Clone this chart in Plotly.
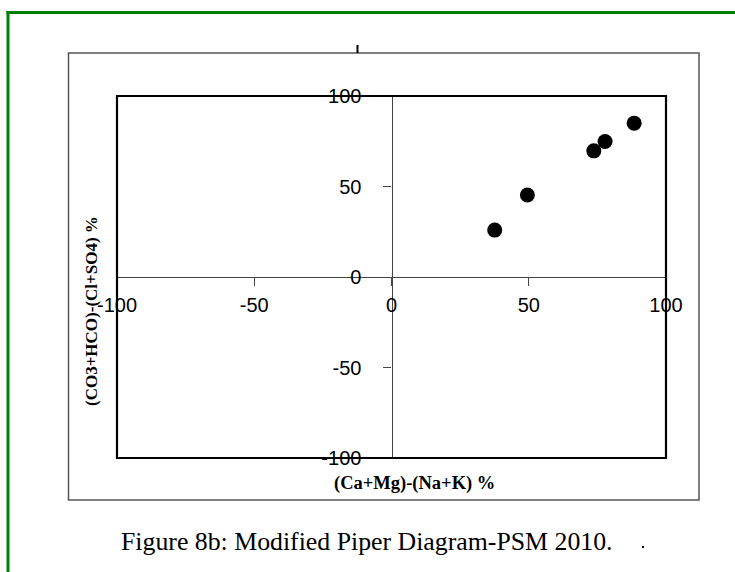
import plotly.graph_objects as go

# ---- data ----
x_vals = [37.6, 49.5, 73.7, 77.8, 88.4]   # (Ca+Mg)-(Na+K) %
y_vals = [25.9, 45.3, 69.7, 74.9, 85.0]   # (CO3+HCO)-(Cl+SO4) %
tick_vals = [-100, -50, 0, 50, 100]
tick_text = ["-100", "-50", "0", "50", "100"]
x_title = "(Ca+Mg)-(Na+K) %"
y_title = "(CO3+HCO)-(Cl+SO4) %"
caption = "Figure 8b: Modified Piper Diagram-PSM 2010."

W, H = 735, 572
def px(x): return x / W
def py(y): return 1 - y / H

# plot area in pixels
L, R, T, B = 117, 666, 96, 458

fig = go.Figure()
fig.add_trace(go.Scatter(
    x=x_vals, y=y_vals, mode="markers",
    marker=dict(color="black", size=15, line=dict(width=0)),
    showlegend=False, hoverinfo="skip"))

tickfont = dict(family="Liberation Sans, Arial, sans-serif", size=20, color="black")
xdom = [px(L), px(R)]
ydom = [py(B), py(T)]

fig.update_layout(
    width=W, height=H,
    margin=dict(l=0, r=0, t=0, b=0),
    paper_bgcolor="white", plot_bgcolor="white",
    xaxis=dict(domain=xdom, range=[-100, 100], anchor="free",
               position=(ydom[0] + ydom[1]) / 2,
               tickvals=tick_vals, ticktext=tick_text, tickfont=tickfont,
               ticks="outside", ticklen=8, tickwidth=1, tickcolor="#444",
               showline=True, linecolor="#444", linewidth=1.2,
               showgrid=False, zeroline=False, automargin=False,
               ticklabelstandoff=2),
    yaxis=dict(domain=ydom, range=[-100, 100], anchor="free",
               position=(xdom[0] + xdom[1]) / 2,
               tickvals=tick_vals, ticktext=tick_text, tickfont=tickfont,
               ticks="outside", ticklen=8, tickwidth=1, tickcolor="#444",
               showline=True, linecolor="#444", linewidth=1.2,
               showgrid=False, zeroline=False, automargin=False,
               ticklabelstandoff=18),
)

shapes = [
    # plot-area frame
    dict(type="rect", xref="paper", yref="paper", x0=px(L), x1=px(R), y0=py(B), y1=py(T),
         line=dict(color="black", width=2.2), layer="above"),
    # chart frame
    dict(type="rect", xref="paper", yref="paper", x0=px(68.5), x1=px(699), y0=py(500), y1=py(53),
         line=dict(color="#555", width=1.5)),
    # green page border
    dict(type="line", xref="paper", yref="paper", x0=px(8), x1=px(8), y0=py(11), y1=0,
         line=dict(color="#008000", width=3)),
    dict(type="line", xref="paper", yref="paper", x0=px(6.5), x1=1, y0=py(12.5), y1=py(12.5),
         line=dict(color="#008000", width=3)),
    # small stray tick above the chart frame
    dict(type="line", xref="paper", yref="paper", x0=px(357.5), x1=px(357.5), y0=py(53), y1=py(45),
         line=dict(color="black", width=2)),
    # small stray dot
    dict(type="rect", xref="paper", yref="paper", x0=px(642), x1=px(644), y0=py(548), y1=py(546),
         line=dict(width=0), fillcolor="black"),
]
fig.update_layout(shapes=shapes)

fig.add_annotation(x=px(415), y=py(483), xref="paper", yref="paper", text="<b>" + x_title + "</b>",
                   showarrow=False, xanchor="center", yanchor="middle",
                   font=dict(family="Liberation Serif, Times New Roman, serif", size=18.5, color="black"))
fig.add_annotation(x=px(91), y=py(311), xref="paper", yref="paper", text="<b>" + y_title + "</b>",
                   showarrow=False, textangle=-90, xanchor="center", yanchor="middle",
                   font=dict(family="Liberation Serif, Times New Roman, serif", size=17, color="black"))
fig.add_annotation(x=px(367), y=py(541), xref="paper", yref="paper", text=caption,
                   showarrow=False, xanchor="center", yanchor="middle",
                   font=dict(family="Liberation Serif, Times New Roman, serif", size=25.8, color="black"))

fig.write_html("out.html")
